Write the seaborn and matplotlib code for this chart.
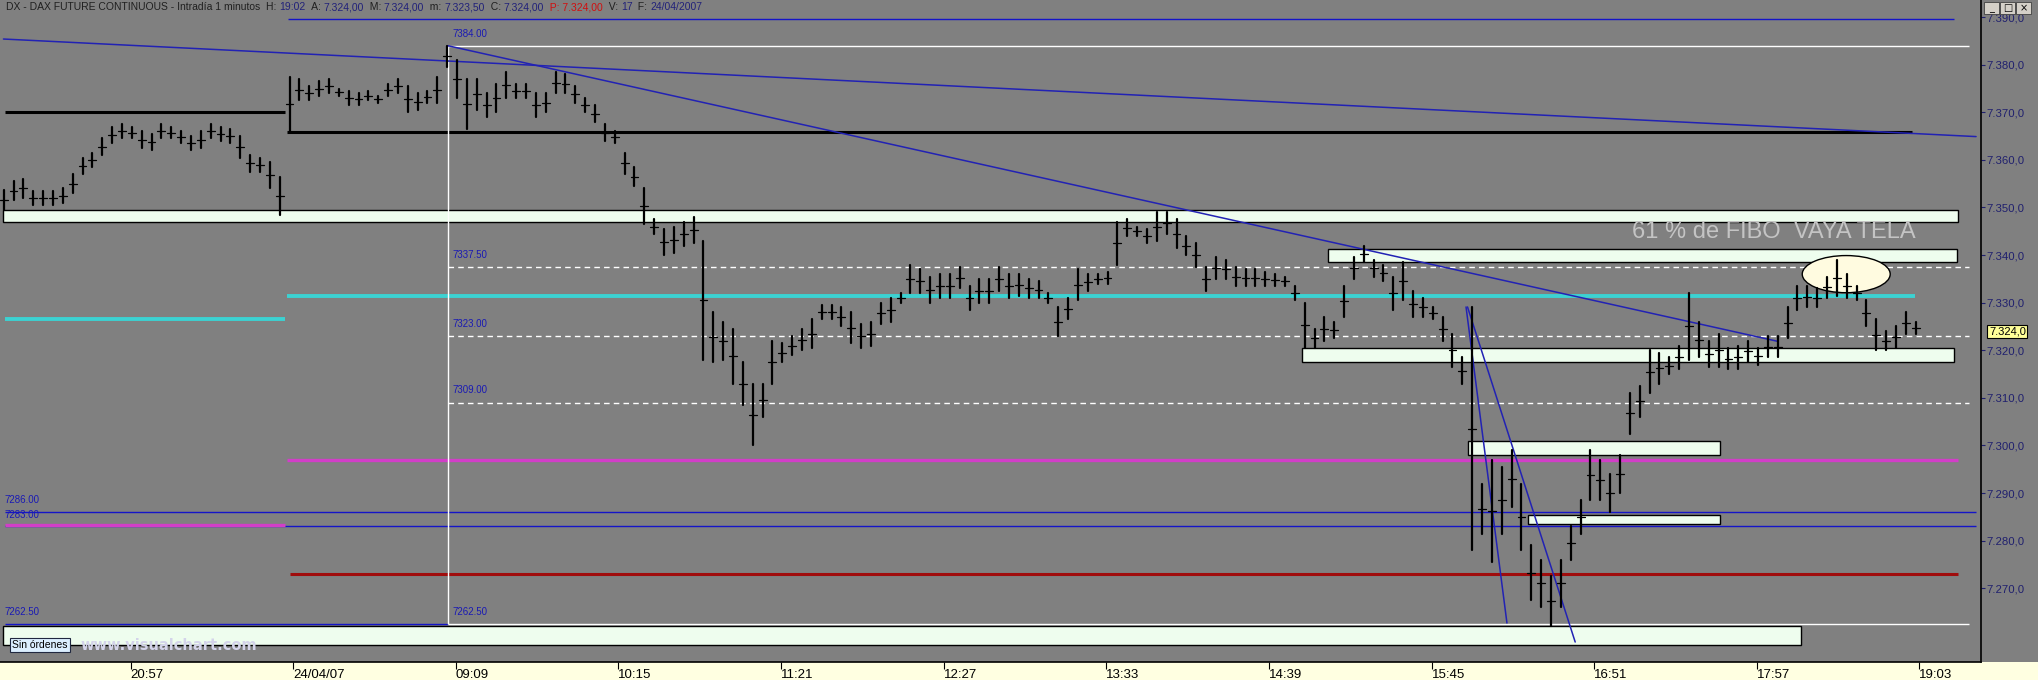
import numpy as np
import pandas as pd
import matplotlib
matplotlib.use("Agg")
import matplotlib.pyplot as plt
import matplotlib.transforms as mtransforms
import seaborn as sns
from matplotlib.patches import Rectangle, Ellipse

# ---------------------------------------------------------------- data
# 4-minute bars (high / low)
# session 1: 23/04 20:04 - 21:59, session 2: 24/04 08:00 - 19:02
day1_high = [7353.7, 7355.5, 7356.0, 7353.5, 7353.5, 7353.5, 7354.0, 7357.0, 7360.5, 7361.5,
             7364.5, 7367.0, 7367.5, 7367.0, 7366.0, 7365.5, 7367.5, 7367.0, 7366.0, 7365.0,
             7366.0, 7367.5, 7367.0, 7366.5, 7365.0, 7361.0, 7360.5, 7359.5, 7356.5]
day1_low = [7349.5, 7351.5, 7352.0, 7350.5, 7350.5, 7350.5, 7351.0, 7353.0, 7357.0, 7358.5,
            7361.0, 7363.5, 7364.5, 7364.5, 7362.5, 7362.0, 7364.5, 7364.5, 7363.5, 7362.0,
            7362.5, 7364.5, 7364.0, 7363.5, 7360.5, 7357.5, 7357.5, 7354.0, 7348.5]

day2_high = [
    7377.5, 7377.0, 7375.5, 7376.5, 7377.0, 7375.0, 7374.5, 7374.0, 7374.5, 7373.5,
    7376.0, 7377.0, 7375.5, 7374.0, 7374.5, 7377.5, 7384.0, 7381.0, 7377.0, 7377.0,
    7374.0, 7376.0, 7378.5, 7376.0, 7376.0, 7374.0, 7374.0, 7378.5, 7378.0, 7375.5,
    7373.0, 7371.5, 7367.5, 7366.0, 7361.5, 7358.5, 7354.0, 7347.5, 7345.5, 7346.0,
    7347.0, 7348.0, 7343.0, 7328.0, 7326.0, 7324.5, 7317.5, 7313.0, 7313.0, 7322.0,
    7321.5, 7323.0, 7324.5, 7326.5, 7329.5, 7329.5, 7329.0, 7328.0, 7325.5, 7326.0,
    7330.0, 7331.0, 7332.0, 7338.0, 7337.0, 7335.5, 7336.0, 7336.0, 7337.5, 7333.5,
    7335.0, 7335.0, 7337.5, 7336.0, 7336.0, 7335.0, 7334.5, 7332.0, 7329.0, 7331.0,
    7337.0, 7336.0, 7336.0, 7336.5, 7347.0, 7347.5, 7346.0, 7345.5, 7349.0, 7349.0,
    7347.5, 7344.0, 7342.5, 7337.5, 7339.5, 7339.0, 7337.5, 7337.0, 7337.0, 7336.5,
    7336.0, 7335.5, 7333.5, 7330.0, 7324.5, 7327.0, 7326.0, 7333.5, 7339.5, 7342.0,
    7339.0, 7338.0, 7335.5, 7338.5, 7332.5, 7331.0, 7329.0, 7327.0, 7323.5, 7318.5,
    7329.0, 7292.0, 7297.0, 7295.5, 7299.0, 7292.0, 7279.0, 7276.0, 7272.5, 7276.0,
    7283.0, 7288.5, 7299.0, 7297.0, 7294.0, 7298.0, 7311.0, 7312.5, 7320.0, 7319.5,
    7318.5, 7321.0, 7332.0, 7326.0, 7322.0, 7323.5, 7320.5, 7321.0, 7322.0, 7320.5,
    7323.0, 7323.0, 7329.0, 7333.5, 7333.5, 7333.0, 7335.5, 7339.0, 7336.0, 7333.5,
    7330.5, 7326.5, 7324.0, 7325.0, 7328.0, 7326.0]
day2_low = [
    7365.8, 7372.5, 7372.5, 7373.5, 7374.0, 7373.5, 7371.5, 7371.5, 7372.5, 7372.0,
    7373.5, 7374.0, 7370.0, 7370.5, 7372.0, 7372.0, 7379.5, 7373.0, 7366.5, 7370.5,
    7369.0, 7370.0, 7373.0, 7373.0, 7373.0, 7369.0, 7370.0, 7374.0, 7374.0, 7372.0,
    7370.0, 7368.0, 7364.0, 7363.5, 7357.0, 7354.5, 7346.5, 7344.5, 7340.0, 7340.5,
    7342.0, 7342.5, 7318.0, 7317.5, 7318.0, 7313.0, 7308.5, 7300.0, 7306.0, 7313.0,
    7317.5, 7319.0, 7320.0, 7320.5, 7326.5, 7326.5, 7325.0, 7321.5, 7320.5, 7321.0,
    7325.5, 7326.0, 7330.0, 7332.0, 7332.0, 7330.0, 7331.0, 7331.0, 7333.0, 7328.5,
    7330.0, 7330.0, 7332.5, 7331.0, 7331.5, 7331.0, 7331.0, 7330.0, 7323.0, 7326.5,
    7330.5, 7332.5, 7334.0, 7334.0, 7338.0, 7344.0, 7344.0, 7342.5, 7343.0, 7344.5,
    7341.5, 7340.0, 7337.5, 7332.5, 7335.0, 7335.0, 7333.5, 7333.5, 7333.5, 7333.5,
    7333.5, 7333.5, 7330.5, 7320.5, 7320.5, 7322.0, 7322.5, 7327.0, 7335.0, 7338.5,
    7335.5, 7334.5, 7328.5, 7330.5, 7327.0, 7327.0, 7326.5, 7322.0, 7316.5, 7313.0,
    7278.0, 7281.5, 7275.5, 7281.5, 7287.0, 7278.0, 7267.5, 7266.0, 7262.0, 7266.0,
    7276.0, 7281.5, 7288.5, 7288.5, 7286.0, 7290.0, 7302.5, 7306.0, 7311.0, 7313.0,
    7315.0, 7316.0, 7318.0, 7318.5, 7316.5, 7316.5, 7316.0, 7316.0, 7317.5, 7317.0,
    7318.5, 7318.5, 7322.5, 7328.5, 7329.0, 7329.0, 7331.0, 7331.5, 7331.0, 7330.5,
    7325.0, 7320.0, 7320.0, 7320.5, 7323.5, 7323.5]

DAY1_START = 0      # minute slot of 20:04
DAY2_START = 116    # minute slot of 08:00
BAR_MIN = 4
LAST_SLOT = 804     # right edge of the price pane

time_ticks = [53, 119, 185, 251, 317, 383, 449, 515, 581, 647, 713, 779]
time_labels = ["20:57", "24/04/07", "09:09", "10:15", "11:21", "12:27",
               "13:33", "14:39", "15:45", "16:51", "17:57", "19:03"]
price_ticks = [7270, 7280, 7290, 7300, 7310, 7320, 7330, 7340, 7350, 7360, 7370, 7380, 7390]
last_price = 7324.0

# support / resistance zones: (start slot, end slot, low, high)
zones = [(1.4, 794.8, 7347.0, 7349.4),
         (539.0, 794.4, 7338.5, 7341.3),
         (528.4, 793.0, 7317.5, 7320.5),
         (595.8, 698.0, 7298.0, 7301.0),
         (620.2, 698.0, 7283.5, 7285.4),
         (1.4, 731.0, 7258.0, 7262.1)]

# horizontal levels: (price, start slot, end slot, colour, width, style)
levels = [(7389.7, 117.0, 793.0, "#1414c8", 1.0, "-"),
          (7384.0, 181.7, 799.0, "white", 1.0, "-"),
          (7370.0, 2.0, 115.5, "black", 2.2, "-"),
          (7365.8, 116.3, 776.0, "black", 2.2, "-"),
          (7326.6, 2.0, 115.5, "#3cd2d2", 2.8, "-"),
          (7331.4, 116.3, 777.3, "#3cd2d2", 2.8, "-"),
          (7286.0, 2.0, 802.0, "#1414c8", 1.0, "-"),
          (7283.0, 2.0, 802.0, "#1414c8", 1.0, "-"),
          (7283.2, 2.0, 115.5, "#d23ec8", 2.4, "-"),
          (7297.0, 116.3, 794.8, "#d23ec8", 2.4, "-"),
          (7273.0, 117.5, 794.8, "#a00c0c", 2.2, "-"),
          (7262.5, 2.0, 181.7, "#1414c8", 1.0, "-"),
          (7262.5, 181.7, 799.0, "white", 1.0, "-"),
          (7337.5, 181.7, 799.0, "white", 1.0, (0, (4, 3))),
          (7323.0, 181.7, 799.0, "white", 1.0, (0, (4, 3))),
          (7309.0, 181.7, 799.0, "white", 1.0, (0, (4, 3)))]

# level captions: (slot, price, text)
level_labels = [(183.5, 7385.5, "7384.00"), (183.5, 7339.0, "7337.50"),
                (183.5, 7324.5, "7323.00"), (183.5, 7310.5, "7309.00"),
                (183.5, 7264.0, "7262.50"), (1.8, 7287.5, "7286.00"),
                (1.8, 7284.4, "7283.00"), (1.8, 7264.0, "7262.50")]

# trend lines: (slot0, price0, slot1, price1)
trends = [(1.4, 7385.4, 802.0, 7364.9),
          (181.7, 7384.0, 721.3, 7321.9),
          (595.0, 7329.1, 611.6, 7262.7),
          (595.6, 7329.1, 639.3, 7258.7)]

# ---------------------------------------------------------------- bars table
rows, ticks = [], []
for sess_start, hi, lo in [(DAY1_START, day1_high, day1_low), (DAY2_START, day2_high, day2_low)]:
    for k, (h, l) in enumerate(zip(hi, lo)):
        slot = sess_start + BAR_MIN * k + 1.5
        bar_id = f"{sess_start}_{k}"
        rows.append({"slot": slot, "price": l, "bar": bar_id})
        rows.append({"slot": slot, "price": h, "bar": bar_id})
        mid = (h + l) / 2
        ticks.append({"slot": slot - 1.6, "price": mid, "bar": bar_id})
        ticks.append({"slot": slot + 1.6, "price": mid, "bar": bar_id})
bars = pd.DataFrame(rows)
bar_ticks = pd.DataFrame(ticks)

# ---------------------------------------------------------------- figure
sns.set_theme(style="white")
plt.rcParams["font.family"] = ["Liberation Sans", "DejaVu Sans"]

W, H = 2038, 680
fig = plt.figure(figsize=(W / 100, H / 100), dpi=100, facecolor="#808080")
ax = fig.add_axes([0, 18 / H, 1981 / W, 662 / H])
ax.set_facecolor("#808080")

# bottom time strip (behind the axes so tick labels stay on top)
fig.patches.append(Rectangle((0, 0), 1, 18 / H, transform=fig.transFigure,
                             facecolor="#ffffe1", edgecolor="none", zorder=-5))

for x0, x1, lo, hi in zones:
    ax.add_patch(Rectangle((x0, lo), x1 - x0, hi - lo, facecolor="#eefdee",
                           edgecolor="black", linewidth=1.0, zorder=2))

for p, x0, x1, c, lw, ls in levels:
    ax.hlines(p, x0, x1, colors=c, linewidth=lw, linestyles=ls, zorder=3)

ax.vlines(181.7, 7262.5, 7384.0, colors="white", linewidth=1.0, zorder=3)

for x0, p0, x1, p1 in trends:
    ax.plot([x0, x1], [p0, p1], color="#2222b4", linewidth=1.1, zorder=4)

ax.add_patch(Ellipse((749.3, 7336.0), 35.7, 7.8, facecolor="#fffbe0",
                     edgecolor="black", linewidth=1.0, zorder=4))

sns.lineplot(data=bars, x="slot", y="price", units="bar", estimator=None, sort=False,
             color="black", linewidth=1.6, legend=False, ax=ax, zorder=6)
sns.lineplot(data=bar_ticks, x="slot", y="price", units="bar", estimator=None, sort=False,
             color="black", linewidth=0.9, legend=False, ax=ax, zorder=6)

for x, p, s in level_labels:
    ax.text(x, p, s, color="#1a1ab4", fontsize=7, va="bottom", ha="left", zorder=7)

ax.text(662.4, 7344.8, "61 % de FIBO  VAYA TELA", color="#c4c4c4", fontsize=17,
        va="center", ha="left", zorder=7)

ax.set_xlim(0, LAST_SLOT)
ax.set_ylim(7254.5, 7393.6)
ax.set_xlabel("")
ax.set_ylabel("")

# price axis on the right
ax.yaxis.tick_right()
ax.set_yticks(price_ticks, [f"7.{v - 7000},0" for v in price_ticks])
ax.tick_params(axis="y", direction="out", length=3, width=0.8, pad=1,
               labelsize=8.2, colors="#20206e", right=True)

ax.set_xticks(time_ticks, time_labels)
ax.tick_params(axis="x", direction="out", length=5, width=0.8, pad=0,
               labelsize=9.5, colors="black", bottom=True, labelbottom=True)
for lbl in ax.get_xticklabels():
    lbl.set_horizontalalignment("left")

for side in ["left", "top"]:
    ax.spines[side].set_visible(False)
for side in ["right", "bottom"]:
    ax.spines[side].set_color("black")
    ax.spines[side].set_linewidth(1.2)

# last price flag
blend = mtransforms.blended_transform_factory(ax.transAxes, ax.transData)
ax.text(1.004, last_price, "7.324,0", transform=blend, fontsize=8, color="black",
        va="center", ha="left", zorder=8, clip_on=False,
        bbox=dict(boxstyle="square,pad=0.15", facecolor="#ffff99", edgecolor="black", linewidth=0.8))

# header line
header = [("DX - DAX FUTURE CONTINUOUS - Intradía 1 minutos  H: ", "#202020"),
          ("19:02", "#22227a"), ("  A: ", "#202020"), ("7.324,00", "#22227a"),
          ("  M: ", "#202020"), ("7.324,00", "#22227a"), ("  m: ", "#202020"),
          ("7.323,50", "#22227a"), ("  C: ", "#202020"), ("7.324,00", "#22227a"),
          ("  P: 7.324,00", "#d01010"), ("  V: ", "#202020"), ("17", "#22227a"),
          ("  F: ", "#202020"), ("24/04/2007", "#22227a")]
prev = ax.text(6 / 1981, 1 - 7 / 662, header[0][0], transform=ax.transAxes, fontsize=7.5,
               color=header[0][1], va="center", ha="left", zorder=8)
for s, c in header[1:]:
    prev = ax.annotate(s, xy=(1, 0.5), xycoords=prev, fontsize=7.5, color=c,
                       va="center", ha="left", zorder=8, annotation_clip=False)

# footer badges
fig.text(12 / W, 1 - 645 / H, "Sin órdenes", fontsize=7.5, color="black", va="center",
         ha="left", bbox=dict(boxstyle="square,pad=0.2", facecolor="#dcefff",
                              edgecolor="#202840", linewidth=0.8))
fig.text(80 / W, 1 - 645 / H, "www.visualchart.com", fontsize=10.5, color="#d4d4ea",
         fontweight="bold", va="center", ha="left", family="DejaVu Sans")

# window buttons
for n, glyph in enumerate(["_", "□", "×"]):
    x0 = 1984 + n * 16
    fig.patches.append(Rectangle((x0 / W, 1 - 14 / H), 15 / W, 12 / H, transform=fig.transFigure,
                                 facecolor="#d4d0c8", edgecolor="#404040", linewidth=0.6, zorder=5))
    fig.text((x0 + 7.5) / W, 1 - 8 / H, glyph, fontsize=7, color="black", va="center",
             ha="center", family=["DejaVu Sans"], zorder=6)

fig.savefig("out.png", dpi=100, facecolor=fig.get_facecolor())
